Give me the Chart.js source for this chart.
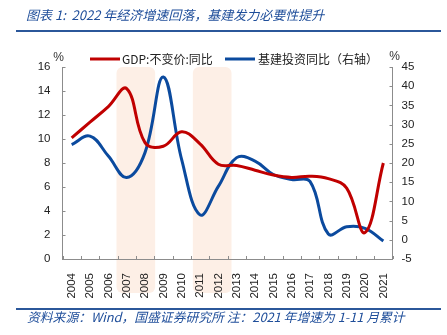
<!DOCTYPE html>
<html><head><meta charset="utf-8">
<script src="https://cdn.jsdelivr.net/npm/chart.js@4/dist/chart.umd.min.js"></script>
<style>
html,body{margin:0;padding:0;background:#fff;}
#wrap{position:relative;width:447px;height:335px;overflow:hidden;background:#fff;}
#c{position:absolute;left:0;top:0;}
.title{position:absolute;left:26px;top:6px;font:italic 13px "Noto Sans CJK SC";color:#1F4E9A;white-space:nowrap;line-height:18px;}
.rule{position:absolute;left:16px;width:425px;height:2px;background:#2B579A;}
.src{position:absolute;left:27px;top:308px;font:italic 12.8px "Noto Sans CJK SC";color:#1F4E9A;white-space:nowrap;line-height:18px;}
</style></head>
<body>
<div id="wrap">
<canvas id="c" width="447" height="335"></canvas>
<div class="title">图表 1:&nbsp; 2022 年经济增速回落，基建发力必要性提升</div>
<div class="rule" style="top:30px"></div>
<div class="rule" style="top:308px"></div>
<div class="src" style="top:308px">资料来源：Wind，国盛证券研究所 注：2021 年增速为 1-11 月累计</div>
</div>
<script>
const categories = ['2004','2005','2006','2007','2008','2009','2010','2011','2012','2013','2014','2015','2016','2017','2018','2019','2020','2021'];
const gdpGrowth = [10.1,11.4,12.7,14.2,9.7,9.4,10.6,9.6,7.9,7.8,7.4,7.0,6.8,6.9,6.7,5.9,2.2,8.0];
const infraGrowth = [24.8,27.0,21.8,16.2,22.7,42.4,20.9,6.5,13.9,21.4,20.5,17.0,15.7,15.2,1.5,3.4,3.0,-0.3];
const seriesNames = ['GDP:不变价:同比','基建投资同比（右轴）'];
const leftTicks = [0,2,4,6,8,10,12,14,16];
const rightTicks = [-5,0,5,10,15,20,25,30,35,40,45];
const shadedPeriods = [['2007','2008'],['2011','2012']];

const RED = '#C00000', BLUE = '#0B4A9E', AXIS = '#8C8C8C';
const FONT = '"Liberation Sans", Arial, sans-serif';

const deco = {
  id: 'deco',
  beforeDraw(chart) {
    const ctx = chart.ctx, xs = chart.scales.x, ca = chart.chartArea;
    const half = (xs.getPixelForValue(1) - xs.getPixelForValue(0)) / 2;
    ctx.save();
    ctx.fillStyle = '#FDEFE6';
    shadedPeriods.forEach(([a, b], k) => {
      const nudge = k === 1 ? 3 : 0;
      const x0 = xs.getPixelForValue(categories.indexOf(a)) - half - 1 + nudge;
      const x1 = xs.getPixelForValue(categories.indexOf(b)) + half + 1 + nudge;
      ctx.beginPath();
      ctx.roundRect(x0, ca.top, x1 - x0, ca.bottom + 34 - ca.top, 6);
      ctx.fill();
    });
    ctx.restore();
  },
  afterDraw(chart) {
    const ctx = chart.ctx, xs = chart.scales.x, yl = chart.scales.y, yr = chart.scales.y1, ca = chart.chartArea;
    ctx.save();
    ctx.strokeStyle = AXIS; ctx.lineWidth = 1;
    ctx.beginPath();
    for (let i = 0; i <= categories.length; i++) {
      const px = Math.round(xs.getPixelForValue(i - 0.5)) + 0.5;
      ctx.moveTo(px, ca.bottom); ctx.lineTo(px, ca.bottom - 3);
    }
    leftTicks.forEach(v => { const py = Math.round(yl.getPixelForValue(v)) + 0.5; ctx.moveTo(ca.left, py); ctx.lineTo(ca.left + 3, py); });
    rightTicks.forEach(v => { const py = Math.round(yr.getPixelForValue(v)) + 0.5; ctx.moveTo(ca.right, py); ctx.lineTo(ca.right - 3, py); });
    ctx.stroke();
    ctx.fillStyle = '#333'; ctx.font = '12px ' + FONT; ctx.textBaseline = 'middle'; ctx.textAlign = 'center';
    ctx.fillText('%', ca.left - 4, 58);
    ctx.fillText('%', ca.right + 2, 57);
    const items = chart.data.datasets;
    const pos = [[90, 120, 122], [225, 255, 258]];
    ctx.textAlign = 'left';
    ctx.font = '12px "Noto Sans CJK SC"';
    items.forEach((ds, i) => {
      const [s0, s1, t] = pos[i];
      ctx.strokeStyle = ds.borderColor; ctx.lineWidth = 3;
      ctx.beginPath(); ctx.moveTo(s0, 59); ctx.lineTo(s1, 59); ctx.stroke();
      ctx.fillStyle = '#222';
      ctx.fillText(ds.label, t, 59);
    });
    ctx.restore();
  }
};

new Chart(document.getElementById('c'), {
  type: 'line',
  data: {
    labels: categories,
    datasets: [
      { label: seriesNames[0], data: gdpGrowth, yAxisID: 'y', borderColor: RED, backgroundColor: RED, borderWidth: 3, pointRadius: 0, tension: 0.4, fill: false },
      { label: seriesNames[1], data: infraGrowth, yAxisID: 'y1', borderColor: BLUE, backgroundColor: BLUE, borderWidth: 3, pointRadius: 0, tension: 0.4, fill: false }
    ]
  },
  options: {
    responsive: false,
    animation: false,
    layout: { padding: { top: 67, bottom: 0, left: 0, right: 0 } },
    plugins: { legend: { display: false }, tooltip: { enabled: false } },
    scales: {
      x: {
        offset: true,
        grid: { display: false },
        border: { display: true, color: AXIS, width: 1 },
        ticks: { autoSkip: false, minRotation: 90, maxRotation: 90, padding: 6, color: '#222', font: { family: FONT, size: 11.5 } },
        afterFit(s) { s.height = 76; }
      },
      y: {
        position: 'left', min: 0, max: 16,
        grid: { display: false, drawTicks: false },
        border: { display: true, color: AXIS, width: 1 },
        ticks: { stepSize: 2, padding: 12, color: '#222', font: { family: FONT, size: 11.5 } },
        afterFit(s) { s.width = 62.5; }
      },
      y1: {
        position: 'right', min: -5, max: 45,
        grid: { display: false, drawTicks: false },
        border: { display: true, color: AXIS, width: 1 },
        ticks: { stepSize: 5, padding: 9, color: '#222', font: { family: FONT, size: 11.5 } },
        afterFit(s) { s.width = 54.5; }
      }
    }
  },
  plugins: [deco]
});
</script>
</body></html>
